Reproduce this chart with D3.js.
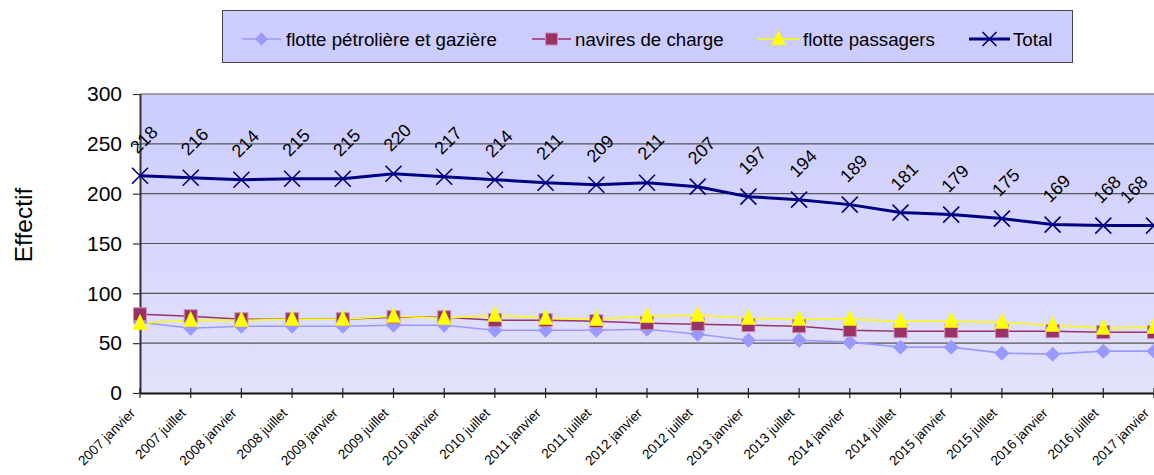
<!DOCTYPE html>
<html>
<head>
<meta charset="utf-8">
<script src="https://cdn.jsdelivr.net/npm/d3@7"></script>
<style>
  html, body { margin: 0; padding: 0; background: #fff; }
  svg { display: block; font-family: "Liberation Sans", Arial, sans-serif; }
</style>
</head>
<body>
<svg id="chart" width="1154" height="475"></svg>
<script>
const categories = ["2007 janvier","2007 juillet","2008 janvier","2008 juillet","2009 janvier","2009 juillet",
  "2010 janvier","2010 juillet","2011 janvier","2011 juillet","2012 janvier","2012 juillet",
  "2013 janvier","2013 juillet","2014 janvier","2014 juillet","2015 janvier","2015 juillet",
  "2016 janvier","2016 juillet","2017 janvier"];
const petroliere = [71,65,67,67,67,68,68,63,63,63,64,59,53,53,51,46,46,40,39,42,42];
const charge     = [79,77,74,74,74,76,76,73,73,72,70,69,68,67,63,62,62,62,62,61,61];
const passagers  = [70,73,73,74,74,77,75,78,75,74,77,78,75,74,74,72,72,71,68,65,66];
const total      = [218,216,214,215,215,220,217,214,211,209,211,207,197,194,189,181,179,175,169,168,168];
const yTicks = [0,50,100,150,200,250,300];
const seriesNames = ["flotte pétrolière et gazière","navires de charge","flotte passagers","Total"];

(function () {
const svg = d3.select("#chart");
const W = 1154;
const pLeft = 140, pRight = 1154, pTop = 94, pBottom = 393;

const x = d3.scalePoint().domain(categories).range([pLeft, pRight]);
const y = d3.scaleLinear().domain([0, 300]).range([pBottom, pTop]);

const defs = svg.append("defs");
const grad = defs.append("linearGradient").attr("id","bg").attr("x1",0).attr("y1",0).attr("x2",0).attr("y2",1);
grad.append("stop").attr("offset","0%").attr("stop-color","#ccccff");
grad.append("stop").attr("offset","100%").attr("stop-color","#e2e2fb");
defs.append("clipPath").attr("id","clip").append("rect")
  .attr("x", pLeft - 10).attr("y", 0).attr("width", W - pLeft + 10).attr("height", 475);

svg.append("rect").attr("x", pLeft).attr("y", pTop).attr("width", W - pLeft + 5).attr("height", pBottom - pTop)
  .attr("fill", "url(#bg)");

svg.append("g").selectAll("line").data(yTicks.filter(d => d > 0)).join("line")
  .attr("x1", pLeft).attr("x2", W).attr("y1", d => y(d)).attr("y2", d => y(d))
  .attr("stroke", "#555").attr("stroke-width", 1.2);

const yAxis = d3.axisLeft(y).tickValues(yTicks).tickSize(7).tickPadding(11).tickSizeOuter(0);
const gy = svg.append("g").attr("transform", `translate(${pLeft},0)`).call(yAxis);
gy.select(".domain").attr("stroke", "#333").attr("stroke-width", 2);
gy.selectAll(".tick line").attr("stroke", "#333").attr("stroke-width", 1.2);
gy.selectAll(".tick text").attr("font-size", 21).attr("fill", "#000")
  .attr("font-family", "Liberation Sans, Arial, sans-serif");

const gx = svg.append("g").attr("transform", `translate(0,${pBottom})`)
  .call(d3.axisBottom(x).tickSize(0).tickFormat(""));
gx.select(".domain").attr("stroke", "#111").attr("stroke-width", 2);
gx.selectAll(".tick line").remove();
svg.append("g").selectAll("line").data(categories).join("line")
  .attr("x1", d => x(d)).attr("x2", d => x(d)).attr("y1", pBottom - 5).attr("y2", pBottom + 5)
  .attr("stroke", "#222").attr("stroke-width", 1.2);
svg.append("g").selectAll("text").data(categories).join("text")
  .attr("transform", d => `translate(${x(d) - 4},${pBottom + 21}) rotate(-45)`)
  .attr("text-anchor", "end").attr("font-size", 13.6).attr("fill", "#000")
  .text(d => d);

svg.append("text").attr("transform", "translate(32,225) rotate(-90)")
  .attr("text-anchor", "middle").attr("font-size", 24.5).attr("fill", "#000").text("Effectif");

const plot = svg.append("g").attr("clip-path", "url(#clip)");
const line = vals => d3.line().x((d, i) => x(categories[i])).y(d => y(d))(vals);

function diamond(g, cx, cy, s, color) {
  g.append("path").attr("d", `M${cx},${cy - s}L${cx + s},${cy}L${cx},${cy + s}L${cx - s},${cy}Z`).attr("fill", color);
}
function square(g, cx, cy, s, color) {
  g.append("rect").attr("x", cx - s).attr("y", cy - s).attr("width", 2 * s).attr("height", 2 * s)
    .attr("fill", color).attr("stroke", "#c890b8").attr("stroke-width", 1);
}
function triangle(g, cx, cy, s, color) {
  g.append("path").attr("d", `M${cx},${cy - s - 2}L${cx + s},${cy + s - 1}L${cx - s},${cy + s - 1}Z`).attr("fill", color);
}
function cross(g, cx, cy, s, color) {
  g.append("path").attr("d", `M${cx - s},${cy - s}L${cx + s},${cy + s}M${cx - s},${cy + s}L${cx + s},${cy - s}`)
    .attr("stroke", color).attr("stroke-width", 1.6).attr("fill", "none");
}

plot.append("path").attr("d", line(petroliere)).attr("fill", "none").attr("stroke", "#9999ff").attr("stroke-width", 1.6);
plot.append("path").attr("d", line(charge)).attr("fill", "none").attr("stroke", "#993366").attr("stroke-width", 1.6);
plot.append("path").attr("d", line(passagers)).attr("fill", "none").attr("stroke", "#ffff00").attr("stroke-width", 1.6);

petroliere.forEach((v, i) => diamond(plot, x(categories[i]), y(v), 7.5, "#9999ff"));
charge.forEach((v, i) => square(plot, x(categories[i]), y(v), 6.5, "#993366"));
passagers.forEach((v, i) => triangle(plot, x(categories[i]), y(v), 7.5, "#ffff00"));

plot.append("path").attr("d", line(total)).attr("fill", "none").attr("stroke", "#000080").attr("stroke-width", 3);
total.forEach((v, i) => cross(plot, x(categories[i]), y(v), 8, "#000080"));

svg.append("g").selectAll("text").data(total).join("text")
  .attr("transform", (d, i) => {
    const cx = Math.min(x(categories[i]) + 4, W - 20);
    return `translate(${cx},${y(d) - 36}) rotate(-45)`;
  })
  .attr("text-anchor", "middle").attr("dominant-baseline", "central")
  .attr("font-size", 18).attr("fill", "#000").text(d => d);

const lg = svg.append("g");
lg.append("rect").attr("x", 222.5).attr("y", 10.5).attr("width", 850).attr("height", 52)
  .attr("fill", "#ccccff").attr("stroke", "#444").attr("stroke-width", 1);
const legendItems = [
  { name: seriesNames[0], x0: 242, x1: 281, tx: 286, color: "#9999ff", mark: diamond, s: 6.5, w: 1.6 },
  { name: seriesNames[1], x0: 532, x1: 571, tx: 575, color: "#993366", mark: square, s: 6, w: 1.6 },
  { name: seriesNames[2], x0: 758, x1: 799, tx: 803, color: "#ffff00", mark: triangle, s: 7, w: 1.6 },
  { name: seriesNames[3], x0: 969, x1: 1010, tx: 1013, color: "#000080", mark: cross, s: 7, w: 3 }
];
const ly = 39;
legendItems.forEach(it => {
  lg.append("line").attr("x1", it.x0).attr("x2", it.x1).attr("y1", ly).attr("y2", ly)
    .attr("stroke", it.color).attr("stroke-width", it.w);
  it.mark(lg, (it.x0 + it.x1) / 2, ly, it.s, it.color);
  lg.append("text").attr("x", it.tx).attr("y", ly).attr("dominant-baseline", "central")
    .attr("font-size", 18.7).attr("fill", "#000").text(it.name);
});
})();
</script>
</body>
</html>
